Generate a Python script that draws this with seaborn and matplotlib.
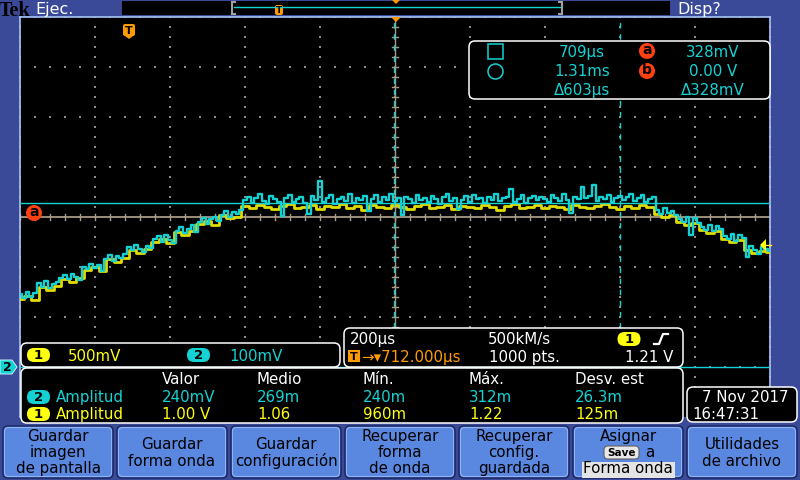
import numpy as np
import matplotlib
matplotlib.use('Agg')
import matplotlib.pyplot as plt
import seaborn as sns
from matplotlib.patches import FancyBboxPatch, Rectangle, Polygon, Circle

t_start_us = -288          # left edge of the record
t_end_us = 1712            # right edge
ch2_step_us = 10
ch2_mv = [146, 138, 150, 141, 148,
          168, 160, 172, 158, 166, 170,
          178, 184, 176, 186, 180, 174,
          200, 196, 206, 198, 204, 192,
          216, 224, 212, 222, 218, 226,
          240, 234, 244, 236, 230, 242, 238,
          256, 262, 250, 264, 254, 248,
          272, 280, 268, 276, 284, 270,
          290, 298, 286, 296, 300, 292,
          304, 312, 300, 310, 306, 314,
          334, 340, 328, 338, 346, 332, 326, 342, 336, 330,
          302, 338, 344, 330, 336, 340, 328, 306, 342, 334,
          372, 330, 338, 344, 326, 336, 340, 332, 346, 328,
          338, 334, 342, 312, 336, 344, 330, 340, 334, 346,
          332, 338, 304, 340, 336, 328, 344, 334, 338, 330,
          342, 336, 326, 340, 346, 332, 338, 316, 334, 342,
          330, 344, 336, 338, 328, 340, 334, 346, 332, 338,
          340, 356, 330, 336, 344, 328, 338, 342, 334, 340,
          336, 330, 344, 338, 332, 346, 334, 308, 340, 336,
          360, 338, 342, 364, 332, 340, 336, 344, 330, 338,
          342, 334, 340, 346, 332, 338, 344, 330, 336, 340,
          314, 306, 318, 308, 312, 304,
          296, 290, 300, 264, 298, 288,
          280, 274, 284, 272, 282, 276,
          262, 256, 266, 252, 264, 258,
          220, 242, 234, 226, 240, 236, 232]
ch1_step_us = 20
ch1_v = [0.68, 0.71, 0.67, 0.80, 0.77, 0.81, 0.88, 0.85, 0.89,
         0.97, 1.00, 0.96, 1.08, 1.05, 1.09, 1.17, 1.14, 1.18,
         1.25, 1.28, 1.24, 1.35, 1.32, 1.36, 1.43, 1.46, 1.42,
         1.52, 1.49, 1.50,
         1.61, 1.59, 1.62, 1.60, 1.58, 1.61, 1.63, 1.59, 1.60, 1.62,
         1.58, 1.61, 1.60, 1.63, 1.59, 1.61, 1.57, 1.62, 1.60, 1.59,
         1.62, 1.60, 1.58, 1.61, 1.63, 1.59, 1.60, 1.62, 1.58, 1.61,
         1.60, 1.59, 1.62, 1.60, 1.57, 1.61, 1.63, 1.59, 1.60, 1.62,
         1.59, 1.61, 1.60, 1.58, 1.62, 1.60, 1.59, 1.61, 1.63, 1.60,
         1.58, 1.61, 1.59, 1.62, 1.60,
         1.53, 1.50, 1.52, 1.45, 1.42, 1.44, 1.37, 1.34, 1.36,
         1.28, 1.25, 1.27, 1.17, 1.14, 1.16, 1.15]
ch1_mv_per_div = 500
ch2_mv_per_div = 100
us_per_div = 200
cursor_t_us = [709, 1312]
cursor_v_mv = [328, 0]
trigger_level_v = 1.21
trigger_pos_us = 0
horiz_pos_us = 712

meas_headers = ["Valor", "Medio", "Mín.", "Máx.", "Desv. est"]
meas_ch2 = ["240mV", "269m", "240m", "312m", "26.3m"]
meas_ch1 = ["1.00 V", "1.06", "960m", "1.22", "125m"]
buttons = [["Guardar", "imagen", "de pantalla"],
           ["Guardar", "forma onda"],
           ["Guardar", "configuración"],
           ["Recuperar", "forma", "de onda"],
           ["Recuperar", "config.", "guardada"],
           ["Asignar", "a", "Forma onda"],
           ["Utilidades", "de archivo"]]

# ---------------- colours ----------------
BG = '#3b4a98'
CY = '#14d2d4'
YE = '#e0dc00'
YT = '#ffff10'
OR = '#ff9a00'
RD = '#ff4010'
DOT = '#8c8c8c'
BTN = '#5a88e0'
FS = 10.8

fig = plt.figure(figsize=(8, 4.8), dpi=100, facecolor=BG)

def pix_axes(z):
    a = fig.add_axes([0, 0, 1, 1], zorder=z)
    a.set_xlim(0, 800); a.set_ylim(480, 0); a.axis('off')
    a.patch.set_alpha(0)
    return a

ax_bg = pix_axes(0)
# ---------------- graticule / waveform axes ----------------
ax = fig.add_axes([20/800, 63/480, 750/800, 400/480], zorder=1)
ax.set_facecolor('black')
ax.set_xlim(t_start_us, t_end_us)
ax.set_ylim(-100, 700)
ax.set_xticks([]); ax.set_yticks([])
for s in ['left', 'top', 'right']:
    ax.spines[s].set_color('#a8c4f8'); ax.spines[s].set_linewidth(1.2)
ax.spines['bottom'].set_visible(False)

# dotted graticule
xs_div = np.arange(t_start_us, t_end_us + 1, us_per_div)
ys_div = np.arange(-100, 701, 100)
fine_y = np.arange(-100, 701, 20)
fine_x = np.arange(t_start_us, t_end_us + 1, 40)
gx = np.repeat(xs_div, len(fine_y)); gy = np.tile(fine_y, len(xs_div))
ax.scatter(gx, gy, s=0.9, marker='s', color=DOT, linewidths=0, zorder=1)
gx2 = np.tile(fine_x, len(ys_div)); gy2 = np.repeat(ys_div, len(fine_x))
ax.scatter(gx2, gy2, s=0.9, marker='s', color=DOT, linewidths=0, zorder=1)
# centre cross lines with ticks
ax.axhline(300, color='#a89a86', lw=1.3, zorder=1)
ax.axvline(horiz_pos_us, color='#a89a86', lw=1.0, zorder=1)
for xv in fine_x:
    ax.plot([xv, xv], [294, 306], color='#a89a86', lw=1, zorder=1)
for yv in fine_y:
    ax.plot([horiz_pos_us - 8, horiz_pos_us + 8], [yv, yv], color='#a89a86', lw=1, zorder=1)

# waveforms
t1 = t_start_us + ch1_step_us * np.arange(len(ch1_v))
t2 = t_start_us + ch2_step_us * np.arange(len(ch2_mv))
ch1_disp = np.array(ch1_v) * 1000 / ch1_mv_per_div * ch2_mv_per_div
sns.lineplot(x=t1, y=ch1_disp, ax=ax, color=YE, lw=2.0, drawstyle='steps-mid',
             estimator=None, sort=False, zorder=3)
sns.lineplot(x=t2, y=np.array(ch2_mv), ax=ax, color=CY, lw=1.7, drawstyle='steps-mid',
             estimator=None, sort=False, zorder=4)

# cursors
for tc in cursor_t_us:
    ax.axvline(tc, color=CY, lw=1.0, ls=(0, (4, 4)), zorder=5)
for vc in cursor_v_mv:
    ax.axhline(vc, color=CY, lw=1.0, zorder=5)
ax.set_xlabel(''); ax.set_ylabel('')

# ---------------- overlay (screen furniture) ----------------
ov = pix_axes(2)

# top bar
ov.add_patch(Rectangle((122, 1), 548, 14, fc='black', ec='none'))
ov.plot([232, 232], [2, 14], color='#a0a0a0', lw=1.5)
ov.plot([232, 235], [2, 2], color='#a0a0a0', lw=1.5)
ov.plot([232, 235], [14, 14], color='#a0a0a0', lw=1.5)
ov.plot([562, 562], [2, 14], color='#a0a0a0', lw=1.5)
ov.plot([559, 562], [2, 2], color='#a0a0a0', lw=1.5)
ov.plot([559, 562], [14, 14], color='#a0a0a0', lw=1.5)
ov.plot([234, 560], [7, 7], color=CY, lw=1.0)
ov.add_patch(FancyBboxPatch((275, 5), 8, 10, boxstyle='round,pad=0,rounding_size=2', fc=OR, ec='none'))
ov.text(279, 10.5, 'T', color='black', fontsize=6.5, fontweight='bold', ha='center', va='center')
ov.add_patch(Polygon([[392, 0], [400, 0], [396, 4]], fc=OR, ec='none'))
ov.text(-1, 16, 'Tek', family='Liberation Serif', fontweight='bold', fontsize=14.5, color='black', va='baseline')
ov.text(35, 14, 'Ejec.', fontsize=11.5, color='white', va='baseline')
ov.text(677, 14, 'Disp?', fontsize=11.5, color='white', va='baseline')

# markers in graticule
ov.add_patch(Polygon([[391, 17], [401, 17], [396, 22]], fc=OR, ec='none'))
ov.add_patch(FancyBboxPatch((123, 24), 12, 12, boxstyle='round,pad=0,rounding_size=2', fc=OR, ec='none'))
ov.add_patch(Polygon([[125, 36], [133, 36], [129, 39]], fc=OR, ec='none'))
ov.text(129, 30.5, 'T', color='black', fontsize=8, fontweight='bold', ha='center', va='center')
ov.add_patch(Circle((34, 213), 8, fc=RD, ec='none'))
ov.text(34, 212, 'a', color='black', fontsize=10, fontweight='bold', ha='center', va='center')
ov.add_patch(Polygon([[760, 245], [766, 239], [766, 251]], fc=YT, ec='none'))
ov.plot([766, 771], [245, 245], color=YT, lw=1)
# channel 2 ground marker
ov.add_patch(Polygon([[0, 360], [12, 360], [17, 367], [12, 374], [0, 374]], fc=CY, ec='#e0ffff', lw=0.6))
ov.text(7, 367.5, '2', color='black', fontsize=9, fontweight='bold', ha='center', va='center')

def rbox(x0, y0, x1, y1, fc='black', ec='white', r=6, lw=1.1):
    ov.add_patch(FancyBboxPatch((x0, y0), x1 - x0, y1 - y0,
                                boxstyle=f'round,pad=0,rounding_size={r}', fc=fc, ec=ec, lw=lw))

def pill(cx, cy, label, color):
    ov.add_patch(FancyBboxPatch((cx - 11.5, cy - 7), 23, 14,
                                boxstyle='round,pad=0,rounding_size=7', fc=color, ec='none'))
    ov.text(cx, cy + 0.5, label, color='black', fontsize=9.5, fontweight='bold', ha='center', va='center')

# cursor readout box
rbox(469, 41, 770, 99)
ov.add_patch(Rectangle((488, 44), 15, 15, fc='none', ec=CY, lw=1.1))
ov.add_patch(Circle((495.5, 71.5), 7.5, fc='none', ec=CY, lw=1.1))
for yb, s in zip([57, 76, 95], ['709µs', '1.31ms', 'Δ603µs']):
    ov.text(582, yb, s, color=CY, fontsize=FS, ha='center', va='baseline')
for yb, s in zip([57, 76, 95], ['328mV', '0.00 V', 'Δ328mV']):
    ov.text(713, yb, s, color=CY, fontsize=FS, ha='center', va='baseline')
for yc, s in zip([51, 71], ['a', 'b']):
    ov.add_patch(Circle((647, yc), 8, fc=RD, ec='none'))
    ov.text(647, yc - 0.5, s, color='black', fontsize=10, fontweight='bold', ha='center', va='center')

# channel scale box
rbox(21, 343, 340, 367)
pill(38.5, 355, '1', YT)
ov.text(68, 361, f'{ch1_mv_per_div}mV', color=YT, fontsize=FS, va='baseline')
pill(198.5, 355, '2', CY)
ov.text(229, 361, f'{ch2_mv_per_div}mV', color=CY, fontsize=FS, va='baseline')

# timebase box
rbox(344, 328, 683, 367)
ov.text(350, 344, f'{us_per_div}µs', color='white', fontsize=FS, va='baseline')
ov.text(488, 344, '500kM/s', color='white', fontsize=FS, va='baseline')
pill(629, 339, '1', YT)
ov.plot([654, 659, 663, 668], [344, 344, 334, 334], color='white', lw=1.6)
ov.add_patch(Rectangle((348, 350), 12, 12, fc=OR, ec='none'))
ov.text(354, 356.5, 'T', color='black', fontsize=8, fontweight='bold', ha='center', va='center')
ov.text(361, 362, '→▾' + f'{horiz_pos_us}.000µs', color=OR, fontsize=FS, va='baseline')
ov.text(489, 362, '1000 pts.', color='white', fontsize=FS, va='baseline')
ov.text(673, 362, f'{trigger_level_v:.2f} V', color='white', fontsize=FS, ha='right', va='baseline')

# measurement box
rbox(21, 368, 683, 423)
cols = [162, 257, 363, 469, 575]
for x, h in zip(cols, meas_headers):
    ov.text(x, 384, h, color='white', fontsize=FS, va='baseline')
pill(38.5, 397, '2', CY)
ov.text(56, 402, 'Amplitud', color=CY, fontsize=FS, va='baseline')
pill(38.5, 414, '1', YT)
ov.text(56, 419, 'Amplitud', color=YT, fontsize=FS, va='baseline')
for x, s in zip(cols, meas_ch2):
    ov.text(x, 402, s, color=CY, fontsize=FS, va='baseline')
for x, s in zip(cols, meas_ch1):
    ov.text(x, 419, s, color=YT, fontsize=FS, va='baseline')

# date box
rbox(687, 387, 797, 422)
ov.text(702, 402, '7 Nov 2017', color='white', fontsize=FS, va='baseline')
ov.text(692, 419, '16:47:31', color='white', fontsize=FS, va='baseline')

# buttons
bx = [3, 117, 231, 345, 459, 573, 687]
for x0, lines in zip(bx, buttons):
    ov.add_patch(FancyBboxPatch((x0, 426), 110, 52, boxstyle='round,pad=0,rounding_size=5',
                                fc=BTN, ec='#1e2a66', lw=1.2))
    ov.add_patch(FancyBboxPatch((x0 + 1.5, 427.5), 107, 49, boxstyle='round,pad=0,rounding_size=4',
                                fc='none', ec='#8fb2f4', lw=0.8))
    cx = x0 + 55
    if len(lines) == 3:
        bl = [441, 457, 473]
    else:
        bl = [449, 466]
    for b, s in zip(bl, lines):
        if s == 'a':
            ov.add_patch(FancyBboxPatch((604, 446), 35, 13, boxstyle='round,pad=0,rounding_size=4',
                                        fc='#e8e8e8', ec='#606060', lw=0.8))
            ov.text(621.5, 453, 'Save', color='black', fontsize=7.5, fontweight='bold',
                    ha='center', va='center')
            ov.text(645, b, 'a', color='black', fontsize=FS, va='baseline')
            continue
        if s == 'Forma onda':
            ov.add_patch(Rectangle((582, 462), 93, 16, fc='#e4e4e4', ec='none'))
        ov.text(cx, b, s, color='black', fontsize=FS, ha='center', va='baseline')

fig.savefig('out.png', dpi=100, facecolor=BG)
